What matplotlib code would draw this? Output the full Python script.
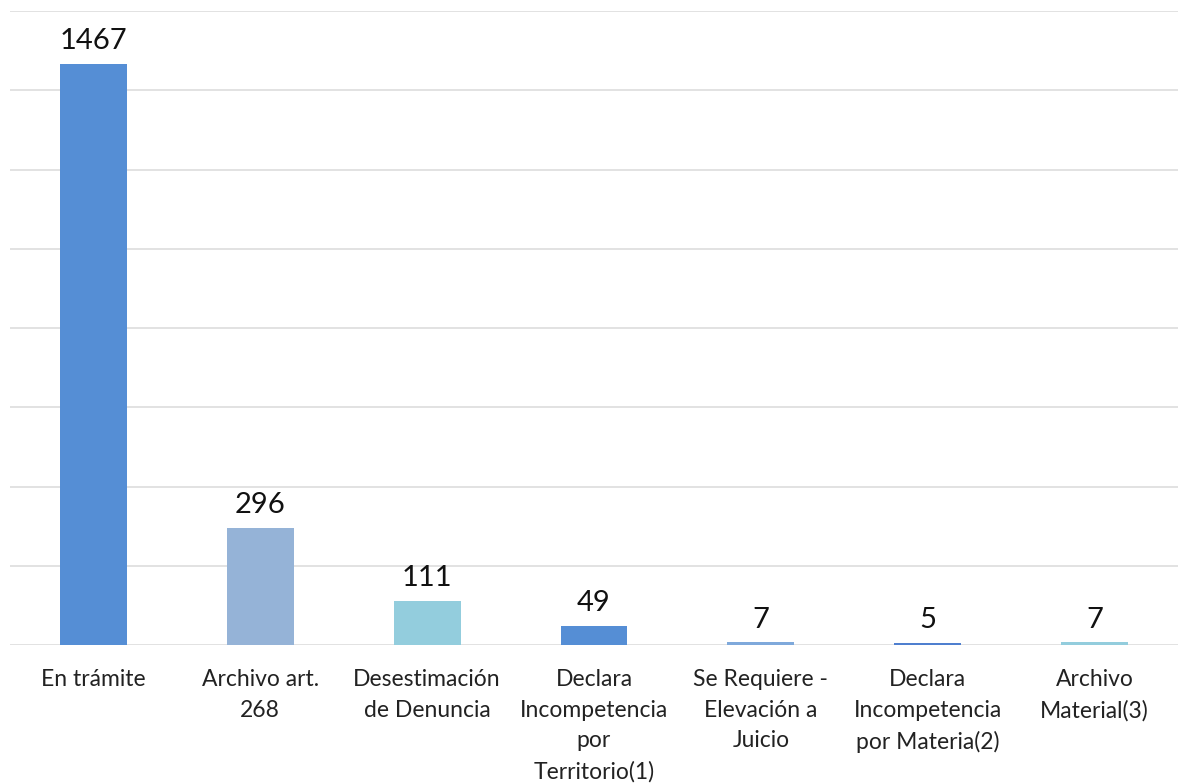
import matplotlib.pyplot as plt

plt.rcParams['font.family'] = ['Lato', 'DejaVu Sans']

categorias = [
    "En trámite",
    "Archivo art.\n268",
    "Desestimación\nde Denuncia",
    "Declara\nIncompetencia\npor\nTerritorio(1)",
    "Se Requiere -\nElevación a\nJuicio",
    "Declara\nIncompetencia\npor Materia(2)",
    "Archivo\nMaterial(3)",
]
valores = [1467, 296, 111, 49, 7, 5, 7]
colores = ["#558ED5", "#95B3D7", "#93CDDD", "#558ED5", "#7FA9DB", "#4F7FCF", "#93CDDD"]

fig = plt.figure(figsize=(11.79, 7.83), dpi=100)
ax = fig.add_axes([10 / 1179, 138 / 783, 1168 / 1179, 634 / 783])

x = range(len(categorias))
bars = ax.bar(x, valores, width=0.40, color=colores, zorder=3)

for b, v in zip(bars, valores):
    ax.annotate(str(v), (b.get_x() + b.get_width() / 2, v),
                xytext=(0, 7), textcoords='offset points',
                ha='center', va='bottom', fontsize=21, color='#111111')

ax.set_xlim(-0.5, len(categorias) - 0.5)
ax.set_ylim(0, 1600)
ax.set_yticks(range(0, 1601, 200))
ax.yaxis.grid(True, color='#DDDDDD', linewidth=1.2, zorder=0)
ax.tick_params(axis='y', left=False, labelleft=False)
ax.tick_params(axis='x', bottom=False, pad=14)
ax.set_xticks(list(x))
ax.set_xticklabels(categorias, fontsize=16.5, color='#222222', linespacing=1.55, va='top')

for s in ax.spines.values():
    s.set_visible(False)

plt.savefig('out.png', dpi=100, facecolor='white')
